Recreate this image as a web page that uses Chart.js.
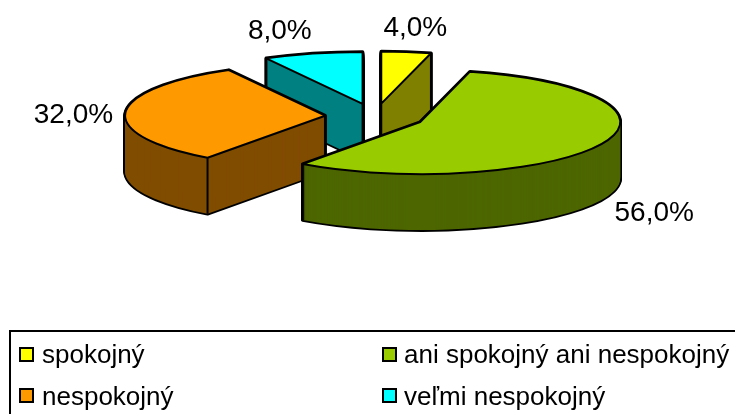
<!DOCTYPE html>
<html>
<head>
<meta charset="utf-8">
<style>html,body{margin:0;padding:0;background:#fff}canvas{display:block}</style>
<script src="https://cdn.jsdelivr.net/npm/chart.js@4/dist/chart.umd.min.js"></script>
</head>
<body>
<canvas id="c" width="735" height="414"></canvas>
<script>
const categories = ['spokojný', 'ani spokojný ani nespokojný', 'nespokojný', 'veľmi nespokojný'];
const shares = [4, 56, 32, 8];
const topColors = ['#FFFF00', '#99CC00', '#FF9900', '#00FFFF'];
const sideColors = ['#808000', '#4D6600', '#804D00', '#008080'];
const valueLabels = ['4,0%', '56,0%', '32,0%', '8,0%'];
const labelNudgeX = [9, 53, -52, -33];
const labelNudgeY = [-24, 69, 3, -22];

const FONT = '"Liberation Sans", Arial, sans-serif';
const RADIUS = 200, SQUASH = 0.26, EXPLODE = 50, DEPTH = 56, LINE = 2;

function geom(arc) {
  const p = arc.getProps(['x', 'y', 'startAngle', 'endAngle', 'outerRadius']);
  const mid = (p.startAngle + p.endAngle) / 2;
  return {
    x: p.x + EXPLODE * Math.cos(mid),
    y: p.y + EXPLODE * SQUASH * Math.sin(mid),
    a0: p.startAngle, a1: p.endAngle, r: p.outerRadius, mid
  };
}
function slicePath(ctx, g, d) {
  ctx.beginPath();
  ctx.moveTo(g.x, g.y + d);
  ctx.ellipse(g.x, g.y + d, g.r, g.r * SQUASH, 0, g.a0, g.a1);
  ctx.closePath();
}
const pie3d = {
  id: 'pie3d',
  beforeDatasetDraw(chart, args) {
    const ctx = chart.ctx;
    const arcs = args.meta.data.map((a, i) => ({ g: geom(a), i }));
    arcs.sort((p, q) => p.g.y - q.g.y);
    ctx.save();
    ctx.lineJoin = 'round';
    arcs.forEach(({ g, i }) => {
      // silhouette of the extruded wall
      ctx.strokeStyle = '#000';
      ctx.lineWidth = LINE + 1.5;
      for (let d = DEPTH; d >= 0; d--) { slicePath(ctx, g, d); ctx.stroke(); }
      ctx.fillStyle = sideColors[i];
      for (let d = DEPTH; d >= 0; d--) { slicePath(ctx, g, d); ctx.fill(); }
      // visible vertical edges
      const corners = [
        [g.x, g.y],
        [g.x + g.r * Math.cos(g.a0), g.y + g.r * SQUASH * Math.sin(g.a0)],
        [g.x + g.r * Math.cos(g.a1), g.y + g.r * SQUASH * Math.sin(g.a1)]
      ];
      slicePath(ctx, g, 0);
      const hidden = corners.map(c => ctx.isPointInPath(c[0], c[1] + 3));
      ctx.lineWidth = LINE;
      corners.forEach((c, k) => {
        if (hidden[k]) return;
        ctx.beginPath();
        ctx.moveTo(c[0], c[1]);
        ctx.lineTo(c[0], c[1] + DEPTH);
        ctx.stroke();
      });
      // top face
      slicePath(ctx, g, 0);
      ctx.fillStyle = args.meta.data[i].options.backgroundColor;
      ctx.fill();
      ctx.stroke();
    });
    ctx.restore();
    return false;
  },
  afterDraw(chart) {
    const ctx = chart.ctx;
    const meta = chart.getDatasetMeta(0);
    ctx.save();
    // value labels
    ctx.fillStyle = '#000';
    ctx.font = '28px ' + FONT;
    ctx.textAlign = 'center';
    ctx.textBaseline = 'middle';
    meta.data.forEach((a, i) => {
      const g = geom(a);
      const x = g.x + g.r * Math.cos(g.mid) + labelNudgeX[i];
      const y = g.y + g.r * SQUASH * Math.sin(g.mid) + labelNudgeY[i];
      ctx.fillText(valueLabels[i], x, y);
    });
    // legend frame
    const L = { left: 10, top: 331, swX: [20, 383], swY: [348, 389], sw: 13, txtX: [42, 404], base: [363, 405] };
    ctx.strokeStyle = '#000';
    ctx.lineWidth = LINE;
    ctx.strokeRect(L.left, L.top, 800, 200);
    ctx.font = '26px ' + FONT;
    ctx.textAlign = 'left';
    ctx.textBaseline = 'alphabetic';
    categories.forEach((t, i) => {
      const col = i % 2, row = Math.floor(i / 2);
      ctx.fillStyle = topColors[i];
      ctx.fillRect(L.swX[col], L.swY[row], L.sw, L.sw);
      ctx.strokeRect(L.swX[col], L.swY[row], L.sw, L.sw);
      ctx.fillStyle = '#000';
      ctx.fillText(t, L.txtX[col], L.base[row]);
    });
    ctx.restore();
  }
};

new Chart(document.getElementById('c'), {
  type: 'pie',
  data: {
    labels: categories,
    datasets: [{ data: shares, backgroundColor: topColors, borderWidth: 0 }]
  },
  options: {
    responsive: false,
    animation: false,
    radius: RADIUS,
    layout: { padding: { left: 15, top: 0, right: 0, bottom: 181 } },
    plugins: { legend: { display: false }, tooltip: { enabled: false } }
  },
  plugins: [pie3d]
});
</script>
</body>
</html>
